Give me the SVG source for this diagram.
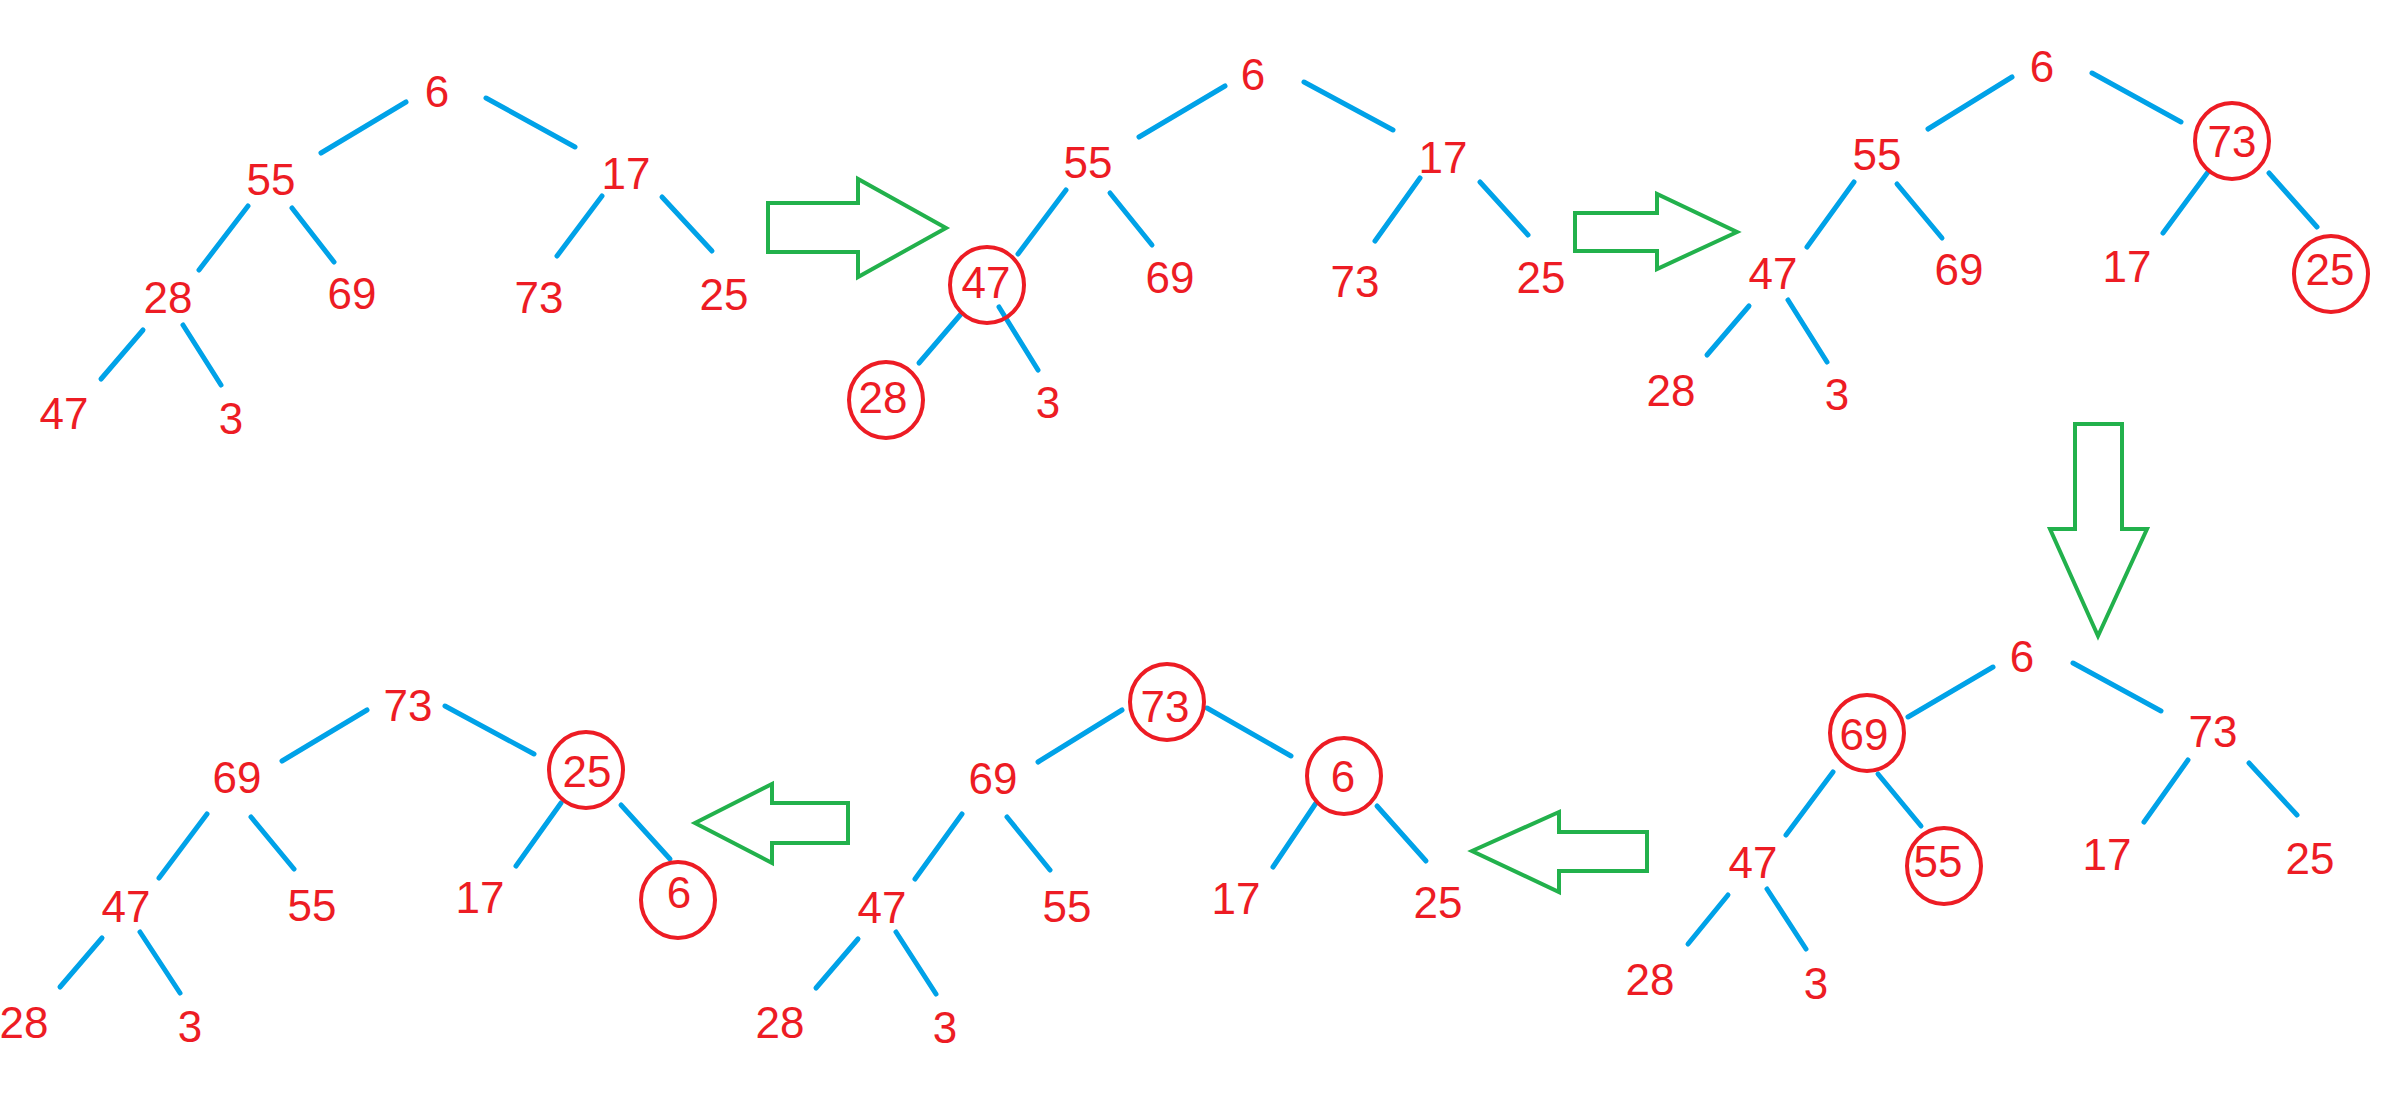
<svg xmlns="http://www.w3.org/2000/svg" width="2393" height="1117" viewBox="0 0 2393 1117">
<style>
text{font-family:"Liberation Sans",Arial,sans-serif;font-size:44px;fill:#ED1C24;text-anchor:middle}
.e{stroke:#00A2E8;stroke-width:5;stroke-linecap:round;fill:none}
.c{fill:none;stroke:#ED1C24;stroke-width:4}
.a{fill:none;stroke:#22B14C;stroke-width:4;stroke-linejoin:miter}
</style>
<rect width="2393" height="1117" fill="#fff"/>
<g id="connectors">
<g id="edges-t1">
<line class="e" x1="406" y1="102" x2="321" y2="153"/>
<line class="e" x1="486" y1="98" x2="575" y2="147"/>
<line class="e" x1="248" y1="206" x2="199" y2="270"/>
<line class="e" x1="292" y1="208" x2="334" y2="262"/>
<line class="e" x1="602" y1="196" x2="557" y2="256"/>
<line class="e" x1="662" y1="197" x2="712" y2="251"/>
<line class="e" x1="143" y1="330" x2="101" y2="379"/>
<line class="e" x1="183" y1="325" x2="221" y2="385"/>
</g>
<g id="edges-t2">
<line class="e" x1="1225" y1="86" x2="1139" y2="137"/>
<line class="e" x1="1304" y1="82" x2="1393" y2="130"/>
<line class="e" x1="1066" y1="190" x2="1018" y2="254"/>
<line class="e" x1="1110" y1="193" x2="1152" y2="245"/>
<line class="e" x1="1420" y1="178" x2="1375" y2="241"/>
<line class="e" x1="1480" y1="182" x2="1528" y2="235"/>
<line class="e" x1="961" y1="314" x2="919" y2="363"/>
<line class="e" x1="999" y1="307" x2="1038" y2="370"/>
</g>
<g id="edges-t3">
<line class="e" x1="2012" y1="77" x2="1928" y2="129"/>
<line class="e" x1="2092" y1="73" x2="2181" y2="122"/>
<line class="e" x1="1854" y1="182" x2="1807" y2="247"/>
<line class="e" x1="1897" y1="184" x2="1942" y2="238"/>
<line class="e" x1="2208" y1="172" x2="2163" y2="233"/>
<line class="e" x1="2269" y1="173" x2="2317" y2="227"/>
<line class="e" x1="1749" y1="306" x2="1707" y2="355"/>
<line class="e" x1="1788" y1="300" x2="1827" y2="362"/>
</g>
<g id="edges-t4">
<line class="e" x1="1993" y1="667" x2="1908" y2="717"/>
<line class="e" x1="2073" y1="663" x2="2161" y2="711"/>
<line class="e" x1="1833" y1="772" x2="1786" y2="835"/>
<line class="e" x1="1878" y1="774" x2="1921" y2="826"/>
<line class="e" x1="2188" y1="760" x2="2144" y2="822"/>
<line class="e" x1="2249" y1="763" x2="2297" y2="815"/>
<line class="e" x1="1728" y1="895" x2="1688" y2="944"/>
<line class="e" x1="1767" y1="889" x2="1806" y2="949"/>
</g>
<g id="edges-t5">
<line class="e" x1="1122" y1="710" x2="1038" y2="762"/>
<line class="e" x1="1207" y1="708" x2="1291" y2="756"/>
<line class="e" x1="962" y1="814" x2="915" y2="879"/>
<line class="e" x1="1007" y1="817" x2="1050" y2="870"/>
<line class="e" x1="1316" y1="803" x2="1273" y2="867"/>
<line class="e" x1="1377" y1="806" x2="1426" y2="861"/>
<line class="e" x1="858" y1="939" x2="816" y2="988"/>
<line class="e" x1="896" y1="932" x2="936" y2="994"/>
</g>
<g id="edges-t6">
<line class="e" x1="367" y1="710" x2="282" y2="761"/>
<line class="e" x1="445" y1="706" x2="534" y2="754"/>
<line class="e" x1="207" y1="814" x2="159" y2="878"/>
<line class="e" x1="251" y1="817" x2="294" y2="869"/>
<line class="e" x1="561" y1="803" x2="516" y2="866"/>
<line class="e" x1="621" y1="805" x2="670" y2="859"/>
<line class="e" x1="102" y1="938" x2="60" y2="987"/>
<line class="e" x1="140" y1="932" x2="180" y2="993"/>
</g>
</g>
<g id="arrows">
<polygon id="arrow1" class="a" points="768,203 858,203 858,179 946,228 858,277 858,252 768,252"/>
<polygon id="arrow2" class="a" points="1575,213 1657,213 1657,194 1737,232 1657,269 1657,251 1575,251"/>
<polygon id="arrow3" class="a" points="2075,424 2122,424 2122,529 2147,529 2098,636 2050,529 2075,529"/>
<polygon id="arrow4" class="a" points="1647,832 1559,832 1559,812 1472,851 1559,892 1559,871 1647,871"/>
<polygon id="arrow5" class="a" points="848,803 772,803 772,784 695,823 772,863 772,843 848,843"/>
</g>
<g id="tree1">
<g id="t1-6"><text x="437" y="107">6</text></g>
<g id="t1-55"><text x="271" y="195">55</text></g>
<g id="t1-17"><text x="626" y="189">17</text></g>
<g id="t1-28"><text x="168" y="313">28</text></g>
<g id="t1-69"><text x="352" y="309">69</text></g>
<g id="t1-73"><text x="539" y="313">73</text></g>
<g id="t1-25"><text x="724" y="310">25</text></g>
<g id="t1-47"><text x="64" y="429">47</text></g>
<g id="t1-3"><text x="231" y="434">3</text></g>
</g>
<g id="tree2">
<g id="t2-6"><text x="1253" y="90">6</text></g>
<g id="t2-55"><text x="1088" y="178">55</text></g>
<g id="t2-17"><text x="1443" y="173">17</text></g>
<g id="t2-47"><ellipse class="c" cx="987" cy="285" rx="37" ry="38"/><text x="986" y="298">47</text></g>
<g id="t2-69"><text x="1170" y="293">69</text></g>
<g id="t2-73"><text x="1355" y="297">73</text></g>
<g id="t2-25"><text x="1541" y="293">25</text></g>
<g id="t2-28"><ellipse class="c" cx="886" cy="400" rx="37" ry="38"/><text x="883" y="413">28</text></g>
<g id="t2-3"><text x="1048" y="418">3</text></g>
</g>
<g id="tree3">
<g id="t3-6"><text x="2042" y="82">6</text></g>
<g id="t3-55"><text x="1877" y="170">55</text></g>
<g id="t3-73"><ellipse class="c" cx="2232" cy="141" rx="37" ry="38"/><text x="2232" y="157">73</text></g>
<g id="t3-47"><text x="1773" y="289">47</text></g>
<g id="t3-69"><text x="1959" y="285">69</text></g>
<g id="t3-17"><text x="2127" y="282">17</text></g>
<g id="t3-25"><ellipse class="c" cx="2331" cy="274" rx="37" ry="38"/><text x="2330" y="285">25</text></g>
<g id="t3-28"><text x="1671" y="406">28</text></g>
<g id="t3-3"><text x="1837" y="410">3</text></g>
</g>
<g id="tree4">
<g id="t4-6"><text x="2022" y="672">6</text></g>
<g id="t4-69"><ellipse class="c" cx="1867" cy="733" rx="37" ry="38"/><text x="1864" y="750">69</text></g>
<g id="t4-73"><text x="2213" y="747">73</text></g>
<g id="t4-47"><text x="1753" y="878">47</text></g>
<g id="t4-55"><ellipse class="c" cx="1944" cy="866" rx="37" ry="38"/><text x="1938" y="877">55</text></g>
<g id="t4-17"><text x="2107" y="870">17</text></g>
<g id="t4-25"><text x="2310" y="874">25</text></g>
<g id="t4-28"><text x="1650" y="995">28</text></g>
<g id="t4-3"><text x="1816" y="999">3</text></g>
</g>
<g id="tree5">
<g id="t5-73"><ellipse class="c" cx="1167" cy="702" rx="37" ry="38"/><text x="1165" y="722">73</text></g>
<g id="t5-69"><text x="993" y="794">69</text></g>
<g id="t5-6"><ellipse class="c" cx="1344" cy="776" rx="37" ry="38"/><text x="1343" y="792">6</text></g>
<g id="t5-47"><text x="882" y="923">47</text></g>
<g id="t5-55"><text x="1067" y="922">55</text></g>
<g id="t5-17"><text x="1236" y="914">17</text></g>
<g id="t5-25"><text x="1438" y="918">25</text></g>
<g id="t5-28"><text x="780" y="1038">28</text></g>
<g id="t5-3"><text x="945" y="1043">3</text></g>
</g>
<g id="tree6">
<g id="t6-73"><text x="408" y="721">73</text></g>
<g id="t6-69"><text x="237" y="793">69</text></g>
<g id="t6-25"><ellipse class="c" cx="586" cy="770" rx="37" ry="38"/><text x="587" y="787">25</text></g>
<g id="t6-47"><text x="126" y="922">47</text></g>
<g id="t6-55"><text x="312" y="921">55</text></g>
<g id="t6-17"><text x="480" y="913">17</text></g>
<g id="t6-6"><ellipse class="c" cx="678" cy="900" rx="37" ry="38"/><text x="679" y="908">6</text></g>
<g id="t6-28"><text x="24" y="1038">28</text></g>
<g id="t6-3"><text x="190" y="1042">3</text></g>
</g>
</svg>
